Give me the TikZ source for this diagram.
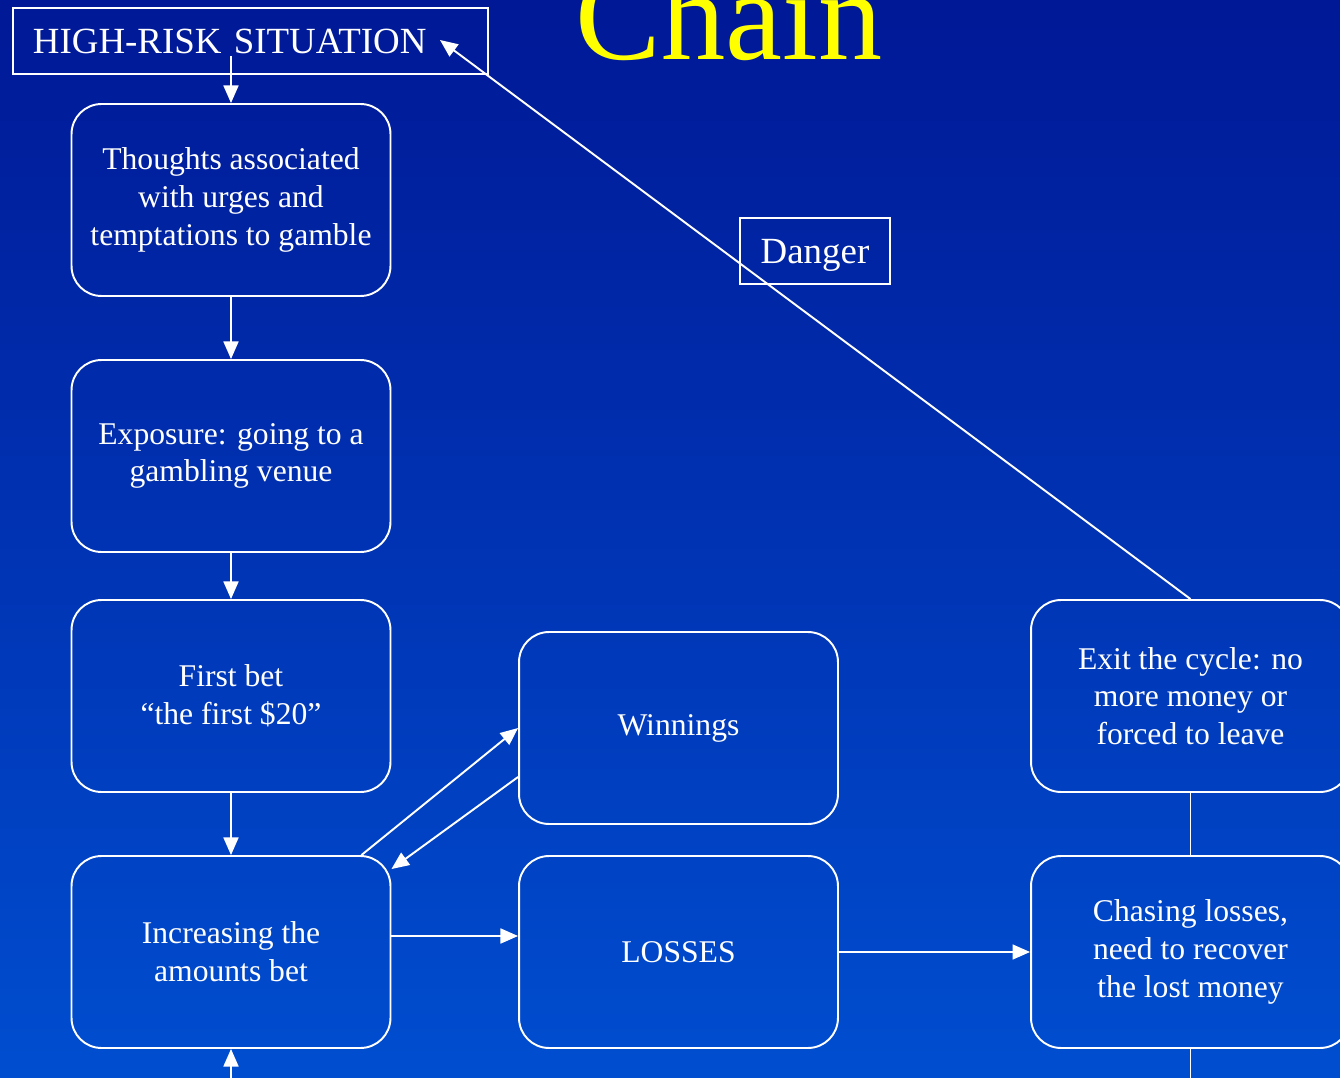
\documentclass[tikz,border=0pt]{standalone}
\usepackage{fontspec}
\setmainfont{Liberation Serif}
\usetikzlibrary{arrows.meta}
\definecolor{bgtop}{RGB}{0,24,150}
\definecolor{bgbottom}{RGB}{0,78,208}
\definecolor{titleyellow}{RGB}{255,255,0}

\begin{document}
\begin{tikzpicture}[x=0.02cm,y=-0.02cm]
\tikzset{stage/.style = {shape=rectangle,draw=white,line width=1.1pt,rounded corners=0.6cm,minimum width=6.38cm,minimum height=3.84cm,align=center,text=white,font=\fontsize{18}{21.5}\selectfont}}
\tikzset{tag/.style = {shape=rectangle,draw=white,line width=1.1pt,text=white,font=\fontsize{21}{25}\selectfont,minimum height=1.32cm,text depth=0pt}}
\tikzset{edge/.style = {-{Triangle[length=10pt,width=8.5pt]},draw=white,line width=1.1pt}}
\tikzset{link/.style = {draw=white,line width=1.1pt}}
\useasboundingbox (0,0) rectangle (1340,1078);
\clip (0,0) rectangle (1340,1078);
\shade[top color=bgtop,bottom color=bgbottom] (0,0) rectangle (1340,1078);

% title
\node[anchor=base,text=titleyellow,font=\fontsize{73}{80}\selectfont] (title) at (729,60) {Chain};

% boxes
\node[tag,anchor=west,inner xsep=0.4cm,text width=8.7cm,align=left] (hrs) at (12,41) {HIGH-RISK SITUATION};
\node[tag,minimum width=3cm] (danger) at (815,251) {Danger};
\node[stage] (thoughts) at (231,200) {Thoughts associated\\with urges and\\temptations to gamble};
\node[stage] (exposure) at (231,456) {Exposure: going to a\\gambling venue};
\node[stage] (first) at (231,696) {First bet\\“the first \$20”};
\node[stage] (incr) at (231,952) {Increasing the\\amounts bet};
\node[stage] (win) at (678.5,728) {Winnings};
\node[stage] (loss) at (678.5,952) {LOSSES};
\node[stage] (exit) at (1190.5,696) {Exit the cycle: no\\more money or\\forced to leave};
\node[stage] (chase) at (1190.5,952) {Chasing losses,\\need to recover\\the lost money};

% loose ends
\coordinate (hrsout) at (231,56);
\coordinate (hrsin) at (440,40);
\coordinate (incrin) at (231,1095);
\coordinate (chaseout) at (1190.5,1095);

\draw [edge] (hrsout) to (thoughts);
\draw [edge] (thoughts) to (exposure);
\draw [edge] (exposure) to (first);
\draw [edge] (first) to (incr);
\draw [edge] ([xshift=-0.6cm]incr.north east) to (win.west);
\draw [edge] ([yshift=-0.98cm]win.west) to ([yshift=-0.28cm]incr.north east);
\draw [edge] ([yshift=0.32cm]incr.east) to ([yshift=0.32cm]loss.west);
\draw [edge] (loss) to (chase);
\draw [link] (exit) to (chase);
\draw [link] (chase) to (chaseout);
\draw [edge] (incrin) to (incr);
\draw [edge] (exit.north) to (hrsin);

\end{tikzpicture}
\end{document}
